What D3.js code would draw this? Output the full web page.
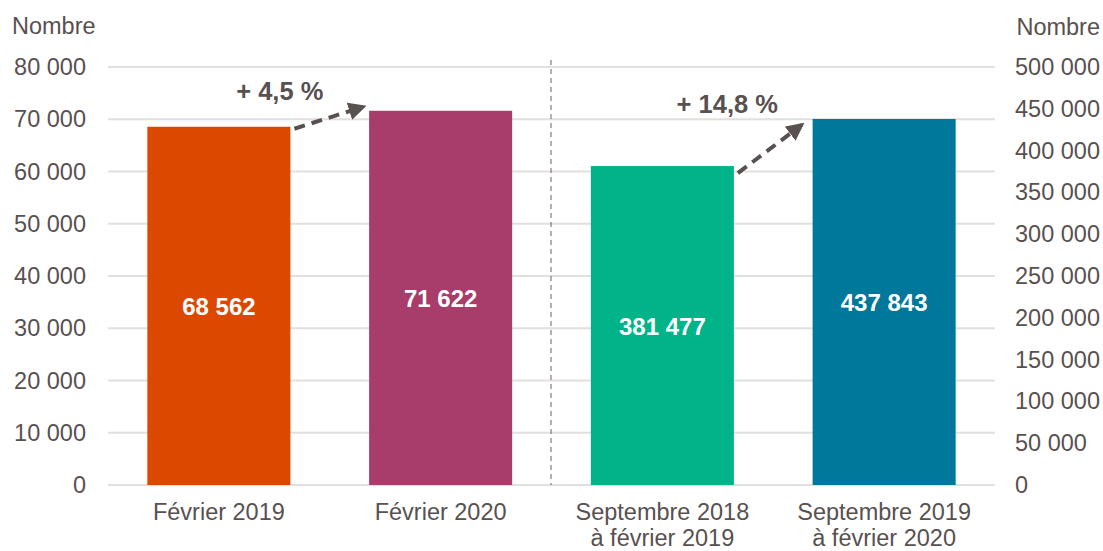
<!DOCTYPE html>
<html>
<head>
<meta charset="utf-8">
<script src="https://cdn.jsdelivr.net/npm/d3@7"></script>
<style>
  body { margin: 0; background: #fff; }
  text { font-family: "Liberation Sans", Arial, sans-serif; }
</style>
</head>
<body>
<div id="chart"></div>
<script>
const categories = [["Février 2019"], ["Février 2020"], ["Septembre 2018", "à février 2019"], ["Septembre 2019", "à février 2020"]];
const values = [68562, 71622, 381477, 437843];
const axisSide = ["left", "left", "right", "right"];
const colors = ["#dd4800", "#a83c6a", "#00b388", "#00789b"];
const valueLabels = ["68 562", "71 622", "381 477", "437 843"];
const leftTicks = [0, 10000, 20000, 30000, 40000, 50000, 60000, 70000, 80000];
const rightTicks = [0, 50000, 100000, 150000, 200000, 250000, 300000, 350000, 400000, 450000, 500000];
const changes = ["+ 4,5 %", "+ 14,8 %"];

const width = 1103, height = 551;
const textColor = "#595050";
const fontSize = "23.5px";
const fmt = v => d3.format(",")(v).replace(/,/g, " ");

const svg = d3.select("#chart").append("svg")
    .attr("width", width)
    .attr("height", height);

const x = d3.scaleBand()
    .domain(d3.range(categories.length))
    .range([108, 995])
    .paddingInner(0.355)
    .paddingOuter(0.1775);

const yL = d3.scaleLinear().domain([0, 80000]).range([485, 67]);
const yR = d3.scaleLinear().domain([0, 500000]).range([485, 67]);
const yOf = i => axisSide[i] === "left" ? yL(values[i]) : yR(values[i]);

// gridlines
svg.append("g").selectAll("line")
    .data(leftTicks)
    .join("line")
    .attr("x1", 108).attr("x2", 995)
    .attr("y1", d => yL(d)).attr("y2", d => yL(d))
    .attr("stroke", "#e3dfdf")
    .attr("stroke-width", 2);

// left axis
const axL = svg.append("g")
    .attr("transform", "translate(108,0)")
    .call(d3.axisLeft(yL).tickValues(leftTicks).tickFormat(fmt).tickSize(0).tickPadding(22));
axL.select(".domain").remove();
axL.selectAll("text").attr("fill", textColor).style("font-size", fontSize);

// right axis
const axR = svg.append("g")
    .attr("transform", "translate(995,0)")
    .call(d3.axisRight(yR).tickValues(rightTicks).tickFormat(fmt).tickSize(0).tickPadding(20));
axR.select(".domain").remove();
axR.selectAll("text").attr("fill", textColor).style("font-size", fontSize);

// axis titles
svg.append("text").attr("x", 12).attr("y", 34)
    .attr("fill", textColor).style("font-size", fontSize).text("Nombre");
svg.append("text").attr("x", 1100).attr("y", 35).attr("text-anchor", "end")
    .attr("fill", textColor).style("font-size", fontSize).text("Nombre");

// separator
svg.append("line")
    .attr("x1", 551).attr("x2", 551).attr("y1", 60).attr("y2", 485)
    .attr("stroke", "#6b6262").attr("stroke-width", 1)
    .attr("stroke-dasharray", "5,4");

// bars
svg.append("g").selectAll("rect")
    .data(values)
    .join("rect")
    .attr("x", (d, i) => x(i))
    .attr("width", x.bandwidth())
    .attr("y", (d, i) => yOf(i))
    .attr("height", (d, i) => 485 - yOf(i))
    .attr("fill", (d, i) => colors[i]);

// value labels
svg.append("g").selectAll("text")
    .data(valueLabels)
    .join("text")
    .attr("x", (d, i) => x(i) + x.bandwidth() / 2)
    .attr("y", (d, i) => (yOf(i) + 485) / 2 + 9)
    .attr("text-anchor", "middle")
    .attr("fill", "#fff")
    .style("font-size", "24px")
    .style("font-weight", "bold")
    .text(d => d);

// category labels
const cat = svg.append("g").selectAll("text")
    .data(categories)
    .join("text")
    .attr("x", (d, i) => x(i) + x.bandwidth() / 2)
    .attr("y", 520)
    .attr("text-anchor", "middle")
    .attr("fill", textColor)
    .style("font-size", fontSize);
cat.selectAll("tspan")
    .data(d => d)
    .join("tspan")
    .attr("x", function () { return this.parentNode.getAttribute("x"); })
    .attr("dy", (d, j) => j === 0 ? 0 : 25.5)
    .text(d => d);

// arrows
svg.append("defs").append("marker")
    .attr("id", "head")
    .attr("viewBox", "0 0 10 10")
    .attr("refX", 8).attr("refY", 5)
    .attr("markerWidth", 4.5).attr("markerHeight", 4.5)
    .attr("orient", "auto")
    .append("path").attr("d", "M0,0 L10,5 L0,10 Z").attr("fill", textColor);

const pairs = [[0, 1], [2, 3]];
pairs.forEach(([a, b], k) => {
    const x1 = x(a) + x.bandwidth() + 4;
    const y1 = yOf(a) + (k === 0 ? 2 : 7);
    const x2 = x(b) - (k === 0 ? 6 : 11);
    const y2 = yOf(b) + (k === 0 ? -4 : 6);
    svg.append("line")
        .attr("x1", x1).attr("y1", y1).attr("x2", x2).attr("y2", y2)
        .attr("stroke", textColor).attr("stroke-width", 4)
        .attr("stroke-dasharray", "11,7")
        .attr("marker-end", "url(#head)");
    svg.append("text")
        .attr("x", (x(a) + x.bandwidth() + x(b)) / 2 - (k === 0 ? 50 : 46))
        .attr("y", k === 0 ? 100 : 113)
        .attr("text-anchor", "middle")
        .attr("fill", textColor)
        .style("font-size", "25.5px")
        .style("font-weight", "bold")
        .text(changes[k]);
});
</script>
</body>
</html>
